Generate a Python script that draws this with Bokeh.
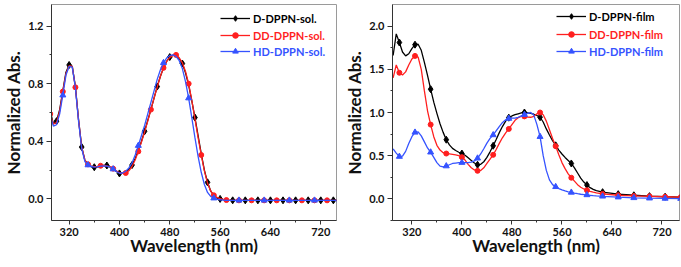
from bokeh.plotting import figure
from bokeh.models import Range1d, FixedTicker, Legend, LegendItem, PrintfTickFormatter
from bokeh.layouts import row
from bokeh.embed import file_html
from bokeh.resources import INLINE

# ---------------- data: solution ----------------
sol_wl = list(range(290, 600, 5)) + list(range(600, 751, 10))
sol_D = [0.61, 0.52, 0.54, 0.62, 0.75, 0.88, 0.93, 0.92, 0.78, 0.55,
         0.36, 0.27, 0.24, 0.225, 0.22, 0.222, 0.228, 0.233, 0.232, 0.222,
         0.207, 0.19, 0.177, 0.178, 0.188, 0.205, 0.235, 0.28, 0.335, 0.40,
         0.47, 0.545, 0.62, 0.70, 0.78, 0.85, 0.91, 0.955, 0.985, 0.998,
         0.995, 0.975, 0.94, 0.875, 0.79, 0.68, 0.565, 0.44, 0.315, 0.20,
         0.115, 0.055, 0.022, 0.006, 0.0, -0.005, -0.008, -0.01, -0.01, -0.01,
         -0.01, -0.01,
         -0.01, -0.01, -0.01, -0.01, -0.01, -0.01, -0.01, -0.01, -0.01, -0.01,
         -0.01, -0.01, -0.01, -0.01, -0.01, -0.01]
sol_DD = [0.59, 0.52, 0.53, 0.61, 0.745, 0.87, 0.925, 0.92, 0.775, 0.55,
          0.36, 0.27, 0.24, 0.228, 0.224, 0.226, 0.23, 0.232, 0.23, 0.222,
          0.21, 0.195, 0.182, 0.177, 0.18, 0.195, 0.225, 0.27, 0.33, 0.395,
          0.465, 0.54, 0.62, 0.70, 0.775, 0.85, 0.91, 0.955, 0.983, 0.997,
          1.0, 0.98, 0.945, 0.885, 0.80, 0.685, 0.555, 0.425, 0.305, 0.195,
          0.11, 0.055, 0.025, 0.01, 0.002, -0.004, -0.008, -0.01, -0.01, -0.01,
          -0.01, -0.01,
          -0.01, -0.01, -0.01, -0.01, -0.01, -0.01, -0.01, -0.01, -0.01, -0.01,
          -0.01, -0.01, -0.01, -0.01, -0.01, -0.01]
sol_HD = [0.58, 0.505, 0.515, 0.59, 0.72, 0.86, 0.92, 0.915, 0.77, 0.54,
          0.35, 0.26, 0.235, 0.225, 0.22, 0.222, 0.227, 0.23, 0.228, 0.22,
          0.207, 0.19, 0.178, 0.18, 0.192, 0.215, 0.25, 0.305, 0.37, 0.44,
          0.51, 0.59, 0.67, 0.75, 0.83, 0.895, 0.945, 0.978, 0.996, 1.0,
          0.99, 0.96, 0.905, 0.815, 0.70, 0.565, 0.425, 0.295, 0.185, 0.10,
          0.045, 0.017, 0.005, -0.002, -0.006, -0.008, -0.01, -0.01, -0.01, -0.01,
          -0.01, -0.01,
          -0.01, -0.01, -0.01, -0.01, -0.01, -0.01, -0.01, -0.01, -0.01, -0.01,
          -0.01, -0.01, -0.01, -0.01, -0.01, -0.01]

# ---------------- data: film ----------------
film_wl = list(range(290, 620, 5)) + [625, 650, 675, 700, 725, 750]
film_D = [1.66, 1.91, 1.81, 1.70, 1.655, 1.68, 1.74, 1.785, 1.79, 1.72,
          1.58, 1.43, 1.27, 1.12, 0.99, 0.87, 0.77, 0.685, 0.625, 0.585,
          0.56, 0.54, 0.525, 0.505, 0.475, 0.445, 0.415, 0.395, 0.40, 0.43,
          0.48, 0.545, 0.615, 0.69, 0.77, 0.84, 0.90, 0.94, 0.96, 0.975,
          0.985, 0.995, 1.0, 0.995, 0.99, 0.98, 0.965, 0.945, 0.89, 0.81,
          0.74, 0.675, 0.62, 0.565, 0.52, 0.48, 0.445, 0.41, 0.36, 0.30,
          0.24, 0.195, 0.16, 0.13, 0.11, 0.095,
          0.078, 0.055, 0.042, 0.032, 0.025, 0.02]
film_DD = [1.40, 1.55, 1.46, 1.435, 1.47, 1.55, 1.62, 1.655, 1.64, 1.50,
           1.25, 1.02, 0.86, 0.72, 0.62, 0.565, 0.535, 0.525, 0.52, 0.515,
           0.51, 0.50, 0.483, 0.45, 0.40, 0.36, 0.335, 0.325, 0.33, 0.36,
           0.41, 0.46, 0.51, 0.575, 0.645, 0.71, 0.765, 0.81, 0.86, 0.91,
           0.94, 0.955, 0.955, 0.948, 0.945, 0.955, 0.985, 1.0, 0.975, 0.90,
           0.80, 0.70, 0.61, 0.51, 0.42, 0.35, 0.29, 0.245, 0.205, 0.165,
           0.135, 0.115, 0.10, 0.088, 0.078, 0.07,
           0.058, 0.042, 0.034, 0.03, 0.025, 0.02]
film_HD = [0.58, 0.53, 0.49, 0.495, 0.55, 0.64, 0.72, 0.77, 0.775, 0.73,
           0.66, 0.59, 0.54, 0.48, 0.42, 0.38, 0.37, 0.38, 0.395, 0.41,
           0.415, 0.42, 0.42, 0.42, 0.42, 0.425, 0.44, 0.47, 0.52, 0.58,
           0.645, 0.70, 0.74, 0.79, 0.84, 0.885, 0.915, 0.93, 0.935, 0.935,
           0.945, 0.96, 0.975, 0.99, 1.0, 0.97, 0.86, 0.72, 0.50, 0.33,
           0.22, 0.165, 0.14, 0.12, 0.105, 0.092, 0.082, 0.075, 0.067, 0.06,
           0.054, 0.05, 0.046, 0.042, 0.038, 0.035,
           0.03, 0.02, 0.012, 0.008, 0.005, 0.003]

x_ticks = [320, 400, 480, 560, 640, 720]
x_minor = [360, 440, 520, 600, 680]
sol_yticks = [0.0, 0.4, 0.8, 1.2]
sol_yminor = [-0.2, 0.2, 0.6, 1.0]
film_yticks = [0.0, 0.5, 1.0, 1.5, 2.0]
film_yminor = [-0.25, 0.25, 0.75, 1.25, 1.75]

sol_labels = ["D-DPPN-sol.", "DD-DPPN-sol.", "HD-DPPN-sol."]
film_labels = ["D-DPPN-film", "DD-DPPN-film", "HD-DPPN-film"]

BLACK = "#000000"
RED = "#ff1f1f"
BLUE = "#3553ff"
FONT = "Lato"
H = 267


def make_fig(width, bl, br, bt, bb, xr, yr, yt, ym):
    p = figure(width=width, height=H, output_backend="svg", toolbar_location=None,
               x_range=Range1d(*xr), y_range=Range1d(*yr),
               min_border_left=bl, min_border_right=br,
               min_border_top=bt, min_border_bottom=bb)
    p.grid.visible = False
    p.outline_line_color = "#9a9a9a"
    p.outline_line_width = 1
    p.background_fill_color = "white"
    p.border_fill_color = "white"
    p.xaxis.ticker = FixedTicker(ticks=x_ticks, minor_ticks=x_minor)
    p.yaxis.ticker = FixedTicker(ticks=yt, minor_ticks=ym)
    p.yaxis.formatter = PrintfTickFormatter(format="%.1f")
    p.xaxis.axis_label = "Wavelength (nm)"
    p.yaxis.axis_label = "Normalized Abs."
    for ax in (p.xaxis, p.yaxis):
        ax.axis_line_color = "#333333"
        ax.major_tick_line_color = "#333333"
        ax.minor_tick_line_color = "#333333"
        ax.major_tick_in = 0
        ax.minor_tick_in = 0
        ax.minor_tick_out = 2
        ax.major_label_text_font = FONT
        ax.major_label_text_font_style = "bold"
        ax.major_label_text_font_size = "11px"
        ax.major_label_text_color = "#111111"
        ax.axis_label_text_font = FONT
        ax.axis_label_text_font_style = "bold"
        ax.axis_label_text_font_size = "17px"
        ax.axis_label_text_color = "#111111"
    p.xaxis.major_tick_out = 4
    p.xaxis.major_label_standoff = 3
    p.xaxis.axis_label_standoff = -4
    p.yaxis.major_tick_out = 5
    p.yaxis.major_label_standoff = 3
    p.yaxis.axis_label_standoff = 1
    return p


def add_series(p, wl, vals, color, marker, size, keep, label, loc):
    r_line = p.line(wl, vals, line_color=color, line_width=1.3)
    mx = [w for w in wl if keep(w)]
    my = [v for w, v in zip(wl, vals) if keep(w)]
    r_pts = p.scatter(mx, my, marker=marker, size=size, fill_color=color,
                      line_color=color)
    leg = Legend(items=[LegendItem(label=label, renderers=[r_line, r_pts])],
                 location=loc, padding=0, margin=0, spacing=0,
                 glyph_width=30, glyph_height=14, label_height=14,
                 label_standoff=3, border_line_alpha=0, background_fill_alpha=0,
                 label_text_font=FONT, label_text_font_style="bold",
                 label_text_font_size="11px", label_text_color=color)
    p.add_layout(leg)


# left panel
W1, BL1, BR1, BT1, BB1 = 340, 49, 4, 4, 44
p1 = make_fig(W1, BL1, BR1, BT1, BB1, (292, 745), (-0.15, 1.35), sol_yticks, sol_yminor)
fw1 = W1 - BL1 - BR1
fh1 = H - BT1 - BB1
lx1 = fw1 - 118
add_series(p1, sol_wl, sol_D, BLACK, "diamond", 7, lambda w: w >= 300 and w % 20 == 0,
           sol_labels[0], (lx1, fh1 - 17 - 7))
add_series(p1, sol_wl, sol_DD, RED, "circle", 5, lambda w: w % 20 == 10,
           sol_labels[1], (lx1, fh1 - 34 - 7))
add_series(p1, sol_wl, sol_HD, BLUE, "triangle", 6, lambda w: w % 40 == 30,
           sol_labels[2], (lx1, fh1 - 50 - 7))

# right panel
W2, BL2, BR2, BT2, BB2 = 341, 52, 2, 2, 47
p2 = make_fig(W2, BL2, BR2, BT2, BB2, (289, 748), (-0.25, 2.25), film_yticks, film_yminor)
fw2 = W2 - BL2 - BR2
fh2 = H - BT2 - BB2
lx2 = fw2 - 123
add_series(p2, film_wl, film_D, BLACK, "diamond", 7, lambda w: w >= 300 and w % 25 == 0,
           film_labels[0], (lx2, fh2 - 14 - 7))
add_series(p2, film_wl, film_DD, RED, "circle", 5, lambda w: w >= 300 and w % 25 == 0,
           film_labels[1], (lx2, fh2 - 32 - 7))
add_series(p2, film_wl, film_HD, BLUE, "triangle", 6, lambda w: w >= 300 and w % 25 == 0,
           film_labels[2], (lx2, fh2 - 49 - 7))

layout = row(p1, p2)
open("out.html", "w").write(file_html(layout, INLINE))
